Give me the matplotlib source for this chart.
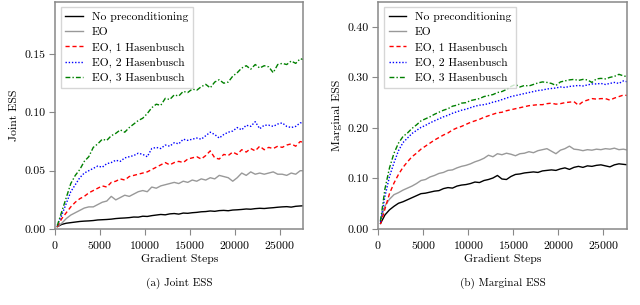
import numpy as np
import matplotlib
matplotlib.use("Agg")
import matplotlib.pyplot as plt

plt.rcParams['font.family'] = ['cmr10', 'DejaVu Serif']
plt.rcParams['axes.formatter.use_mathtext'] = True
plt.rcParams['font.size'] = 8

## data (values every 500 gradient steps)
steps = np.arange(250, 27751, 500)

labels = ["No preconditioning", "EO", "EO, 1 Hasenbusch", "EO, 2 Hasenbusch", "EO, 3 Hasenbusch"]

joint_none = [0.002, 0.004, 0.005, 0.0055, 0.006, 0.0065, 0.0068, 0.007, 0.0073, 0.0078,
              0.008, 0.0082, 0.0085, 0.009, 0.0093, 0.0095, 0.0098, 0.0103, 0.0102, 0.011,
              0.0108, 0.0115, 0.012, 0.0125, 0.0122, 0.013, 0.0133, 0.0128, 0.0137, 0.0135,
              0.014, 0.0143, 0.0148, 0.015, 0.0155, 0.0152, 0.0158, 0.016, 0.0157, 0.0163,
              0.0165, 0.0168, 0.0172, 0.017, 0.0175, 0.0178, 0.0176, 0.018, 0.0183, 0.0187,
              0.019, 0.0192, 0.0188, 0.0195, 0.0198, 0.020]
joint_eo = [0.002, 0.005, 0.009, 0.012, 0.014, 0.016, 0.018, 0.019, 0.019, 0.021,
            0.023, 0.024, 0.028, 0.025, 0.027, 0.029, 0.028, 0.030, 0.032, 0.033,
            0.032, 0.036, 0.035, 0.037, 0.038, 0.039, 0.040, 0.039, 0.041, 0.040,
            0.042, 0.041, 0.043, 0.042, 0.044, 0.043, 0.046, 0.045, 0.044, 0.041,
            0.044, 0.048, 0.046, 0.049, 0.047, 0.048, 0.047, 0.048, 0.049, 0.047,
            0.047, 0.046, 0.048, 0.047, 0.050, 0.050]
joint_h1 = [0.002, 0.009, 0.014, 0.019, 0.023, 0.026, 0.028, 0.031, 0.033, 0.035,
            0.037, 0.036, 0.040, 0.041, 0.043, 0.042, 0.045, 0.046, 0.047, 0.048,
            0.049, 0.051, 0.053, 0.055, 0.057, 0.055, 0.057, 0.058, 0.057, 0.060,
            0.061, 0.062, 0.060, 0.063, 0.067, 0.061, 0.060, 0.064, 0.063, 0.066,
            0.064, 0.068, 0.066, 0.069, 0.067, 0.071, 0.068, 0.070, 0.069, 0.071,
            0.070, 0.072, 0.073, 0.071, 0.075, 0.074]
joint_h2 = [0.003, 0.012, 0.022, 0.032, 0.038, 0.044, 0.048, 0.050, 0.052, 0.054,
            0.053, 0.056, 0.057, 0.059, 0.058, 0.061, 0.062, 0.063, 0.065, 0.064,
            0.062, 0.069, 0.070, 0.069, 0.072, 0.071, 0.074, 0.073, 0.077, 0.076,
            0.077, 0.078, 0.077, 0.080, 0.083, 0.081, 0.078, 0.081, 0.083, 0.084,
            0.087, 0.085, 0.089, 0.088, 0.092, 0.086, 0.089, 0.089, 0.088, 0.090,
            0.091, 0.088, 0.087, 0.088, 0.091, 0.091]
joint_h3 = [0.003, 0.015, 0.027, 0.039, 0.046, 0.051, 0.058, 0.062, 0.070, 0.073,
            0.077, 0.076, 0.080, 0.082, 0.085, 0.083, 0.087, 0.090, 0.093, 0.095,
            0.099, 0.104, 0.107, 0.106, 0.112, 0.111, 0.115, 0.114, 0.118, 0.117,
            0.120, 0.119, 0.122, 0.124, 0.121, 0.126, 0.128, 0.125, 0.126, 0.131,
            0.134, 0.138, 0.140, 0.137, 0.141, 0.138, 0.140, 0.139, 0.134, 0.141,
            0.142, 0.141, 0.144, 0.142, 0.146, 0.145]

marg_none = [0.011, 0.028, 0.038, 0.045, 0.051, 0.054, 0.058, 0.062, 0.066, 0.070,
             0.071, 0.073, 0.075, 0.076, 0.080, 0.082, 0.081, 0.085, 0.087, 0.088,
             0.090, 0.093, 0.092, 0.096, 0.098, 0.101, 0.106, 0.099, 0.098, 0.104,
             0.108, 0.109, 0.111, 0.112, 0.113, 0.112, 0.115, 0.116, 0.117, 0.116,
             0.119, 0.121, 0.118, 0.122, 0.124, 0.122, 0.125, 0.124, 0.126, 0.127,
             0.125, 0.123, 0.127, 0.129, 0.128, 0.127]
marg_eo = [0.018, 0.046, 0.059, 0.068, 0.072, 0.077, 0.081, 0.085, 0.090, 0.096,
           0.098, 0.103, 0.106, 0.110, 0.112, 0.116, 0.117, 0.121, 0.124, 0.126,
           0.129, 0.133, 0.136, 0.140, 0.146, 0.143, 0.149, 0.147, 0.150, 0.148,
           0.145, 0.149, 0.150, 0.153, 0.151, 0.155, 0.157, 0.159, 0.154, 0.149,
           0.156, 0.159, 0.164, 0.158, 0.157, 0.155, 0.157, 0.156, 0.158, 0.157,
           0.159, 0.158, 0.160, 0.157, 0.158, 0.156]
marg_h1 = [0.010, 0.040, 0.070, 0.091, 0.108, 0.122, 0.133, 0.143, 0.150, 0.158,
           0.164, 0.170, 0.176, 0.181, 0.186, 0.190, 0.196, 0.200, 0.203, 0.207,
           0.211, 0.214, 0.217, 0.221, 0.224, 0.227, 0.230, 0.231, 0.234, 0.236,
           0.238, 0.240, 0.242, 0.244, 0.245, 0.246, 0.246, 0.248, 0.249, 0.247,
           0.248, 0.250, 0.251, 0.252, 0.245, 0.252, 0.255, 0.258, 0.257, 0.258,
           0.258, 0.255, 0.259, 0.262, 0.265, 0.264]
marg_h2 = [0.014, 0.065, 0.104, 0.131, 0.155, 0.171, 0.180, 0.189, 0.195, 0.201,
           0.205, 0.210, 0.214, 0.218, 0.222, 0.225, 0.229, 0.232, 0.235, 0.237,
           0.240, 0.243, 0.245, 0.246, 0.248, 0.251, 0.253, 0.256, 0.259, 0.262,
           0.264, 0.266, 0.268, 0.270, 0.272, 0.274, 0.275, 0.277, 0.278, 0.279,
           0.281, 0.280, 0.282, 0.283, 0.284, 0.283, 0.285, 0.287, 0.287, 0.288,
           0.286, 0.288, 0.290, 0.288, 0.293, 0.291]
marg_h3 = [0.016, 0.080, 0.121, 0.150, 0.170, 0.183, 0.190, 0.199, 0.206, 0.214,
           0.218, 0.222, 0.227, 0.231, 0.235, 0.238, 0.243, 0.245, 0.249, 0.250,
           0.254, 0.256, 0.258, 0.262, 0.264, 0.266, 0.270, 0.272, 0.276, 0.282,
           0.286, 0.281, 0.284, 0.283, 0.286, 0.289, 0.291, 0.290, 0.288, 0.284,
           0.291, 0.293, 0.295, 0.296, 0.294, 0.296, 0.295, 0.290, 0.297, 0.298,
           0.297, 0.300, 0.302, 0.306, 0.303, 0.301]

colors = ["black", "#999999", "red", "blue", "green"]
styles = ["-", "-", (0, (3, 2)), (0, (1, 1.3)), (0, (3.5, 1.5, 1, 1.5))]
spine_col = "#888888"

fig = plt.figure(figsize=(6.4, 3.05), dpi=100)
ax1 = fig.add_axes([0.086, 0.249, 0.388, 0.746])
ax2 = fig.add_axes([0.591, 0.249, 0.388, 0.746])

panels = [
    (ax1, [joint_none, joint_eo, joint_h1, joint_h2, joint_h3], "Joint ESS", (0, 0.195),
     [0.0, 0.05, 0.10, 0.15], "(a) Joint ESS"),
    (ax2, [marg_none, marg_eo, marg_h1, marg_h2, marg_h3], "Marginal ESS", (0, 0.45),
     [0.0, 0.10, 0.20, 0.30, 0.40], "(b) Marginal ESS"),
]

for ax, series, ylab, ylim, yticks, cap in panels:
    for vals, c, ls, lab in zip(series, colors, styles, labels):
        ax.plot(steps, vals, color=c, linestyle=ls, linewidth=1.0, label=lab)
    ax.set_xlim(0, 27600)
    ax.set_ylim(*ylim)
    ax.set_xticks([0, 5000, 10000, 15000, 20000, 25000])
    ax.set_yticks(yticks)
    ax.yaxis.set_major_formatter(matplotlib.ticker.FormatStrFormatter('%.2f'))
    ax.set_xlabel("Gradient Steps", fontsize=8.5, labelpad=2)
    ax.set_ylabel(ylab, fontsize=8.5)
    for s in ax.spines.values():
        s.set_color(spine_col)
        s.set_linewidth(1.1)
    ax.tick_params(direction='out', length=4, color=spine_col, labelsize=8.5, pad=3)
    ax.legend(loc='upper left', fontsize=8.3, frameon=True, fancybox=False,
              edgecolor='#cccccc', handlelength=1.5, labelspacing=0.45,
              borderaxespad=0.5)
    pos = ax.get_position()
    fig.text(pos.x0 + pos.width / 2, 0.07, cap, ha='center', va='center', fontsize=8)

fig.savefig("out.png", dpi=100)
